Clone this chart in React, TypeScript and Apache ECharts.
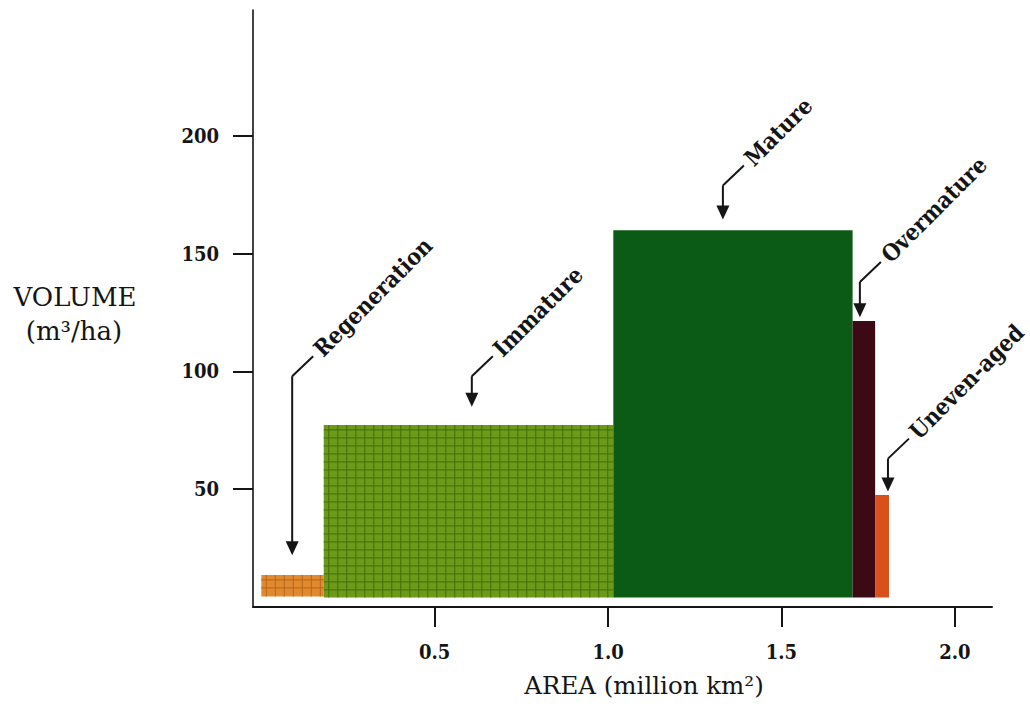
import React, { useEffect, useRef } from "react";
import * as echarts from "echarts";

// ---- data ----
const classes = ["Regeneration", "Immature", "Mature", "Overmature", "Uneven-aged"];
const areaStart = [0.0, 0.18, 1.015, 1.705, 1.77];
const areaEnd = [0.18, 1.015, 1.705, 1.77, 1.81];
const volume = [13.6, 77.3, 160, 121.4, 47.6];
const barBase = [4.5, 4, 4, 4, 4];
const barColors = ["#e0892e", "#6b9a18", "#0b5a15", "#3b0a14", "#d9501a"];
const hatchColors = ["#b0621c", "#40690c", "", "", ""];
const arrowX = [0.089, 0.607, 1.331, 1.726, 1.807];
const elbowY = [98, 98, 179, 138, 63];
const tipY = [22, 85, 164.5, 123, 49];
const xTicks = [0.5, 1.0, 1.5, 2.0];
const yTicks = [50, 100, 150, 200];

const SERIF = "'DejaVu Serif', serif";
const SERIF_C = "'DejaVu Serif Condensed', 'DejaVu Serif', serif";
const INK = "#151515";

export default function App() {
  const ref = useRef<HTMLDivElement>(null);

  useEffect(() => {
    if (!ref.current) return;
    const chart = echarts.init(ref.current, undefined, { renderer: "svg" });

    const barData = classes.map((_, i) => [areaStart[i], areaEnd[i], barBase[i], volume[i]]);
    const noteData = classes.map((_, i) => [arrowX[i], elbowY[i], tipY[i]]);

    const option: any = {
      animation: false,
      backgroundColor: "#ffffff",
      grid: { left: 253, right: 38, top: 10, bottom: 114, containLabel: false },
      xAxis: {
        type: "value",
        min: -0.024,
        max: 2.107,
        splitLine: { show: false },
        axisLine: { show: true, onZero: false, lineStyle: { color: INK, width: 2 } },
        axisTick: {
          show: true,
          inside: false,
          length: 20,
          customValues: xTicks,
          lineStyle: { color: INK, width: 2 },
        },
        axisLabel: {
          customValues: xTicks,
          formatter: (v: number) => v.toFixed(1),
          margin: 35,
          color: INK,
          fontFamily: SERIF_C,
          fontSize: 20,
          fontWeight: "bold",
        },
      },
      yAxis: {
        type: "value",
        min: 0,
        max: 253.5,
        splitLine: { show: false },
        axisLine: { show: true, onZero: false, lineStyle: { color: INK, width: 1.6 } },
        axisTick: {
          show: true,
          inside: false,
          length: 20,
          customValues: yTicks,
          lineStyle: { color: INK, width: 2 },
        },
        axisLabel: {
          customValues: yTicks,
          formatter: (v: number) => String(v),
          margin: 34,
          color: INK,
          fontFamily: SERIF_C,
          fontSize: 20,
          fontWeight: "bold",
        },
      },
      graphic: [
        {
          type: "text",
          x: 75,
          y: 297,
          style: { text: "VOLUME", fill: INK, fontFamily: SERIF, fontSize: 26, align: "center", verticalAlign: "middle" },
        },
        {
          type: "text",
          x: 74,
          y: 331,
          style: { text: "(m³/ha)", fill: INK, fontFamily: SERIF, fontSize: 26, align: "center", verticalAlign: "middle" },
        },
        {
          type: "text",
          x: 644,
          y: 685,
          style: { text: "AREA (million km²)", fill: INK, fontFamily: SERIF, fontSize: 24.5, align: "center", verticalAlign: "middle" },
        },
      ],
      series: [
        {
          type: "custom",
          name: "bars",
          silent: true,
          clip: false,
          encode: { x: [0, 1], y: [2, 3] },
          data: barData,
          renderItem: (params: any, api: any) => {
            const i = params.dataIndex;
            const p0 = api.coord([api.value(0), api.value(3)]);
            const p1 = api.coord([api.value(1), api.value(2)]);
            const x = p0[0];
            const y = p0[1];
            const w = p1[0] - p0[0];
            const h = p1[1] - p0[1];
            const children: any[] = [
              { type: "rect", shape: { x, y, width: w, height: h }, style: { fill: barColors[i] } },
            ];
            const hc = hatchColors[i];
            if (hc) {
              for (let gx = x + 5; gx < x + w - 1; gx += 9) {
                children.push({
                  type: "line",
                  shape: { x1: gx, y1: y, x2: gx, y2: y + h },
                  style: { stroke: hc, lineWidth: 1.2, opacity: 0.75 },
                });
              }
              for (let gy = y + 5; gy < y + h - 1; gy += 8) {
                children.push({
                  type: "line",
                  shape: { x1: x, y1: gy, x2: x + w, y2: gy },
                  style: { stroke: hc, lineWidth: 1.2, opacity: 0.75 },
                });
              }
            }
            return { type: "group", children };
          },
        },
        {
          type: "custom",
          name: "notes",
          silent: true,
          clip: false,
          encode: { x: 0, y: [1, 2] },
          data: noteData,
          renderItem: (params: any, api: any) => {
            const i = params.dataIndex;
            const e = api.coord([api.value(0), api.value(1)]);
            const t = api.coord([api.value(0), api.value(2)]);
            const ah = 14;
            const aw = 6.5;
            const dx = 21;
            const dy = 20;
            return {
              type: "group",
              children: [
                {
                  type: "line",
                  shape: { x1: e[0], y1: e[1], x2: t[0], y2: t[1] - ah + 2 },
                  style: { stroke: INK, lineWidth: 2 },
                },
                {
                  type: "polygon",
                  shape: { points: [[t[0] - aw, t[1] - ah], [t[0] + aw, t[1] - ah], [t[0], t[1]]] },
                  style: { fill: INK },
                },
                {
                  type: "line",
                  shape: { x1: e[0], y1: e[1], x2: e[0] + dx, y2: e[1] - dy },
                  style: { stroke: INK, lineWidth: 2 },
                },
                {
                  type: "text",
                  x: e[0] + dx + 4,
                  y: e[1] - dy - 4,
                  rotation: Math.PI / 4,
                  style: {
                    text: classes[i],
                    fill: INK,
                    fontFamily: SERIF_C,
                    fontSize: 23,
                    fontWeight: "bold",
                    align: "left",
                    verticalAlign: "middle",
                  },
                },
              ],
            };
          },
        },
      ],
    };

    chart.setOption(option);
    return () => chart.dispose();
  }, []);

  return (
    <div
      ref={ref}
      style={{ position: "fixed", left: 0, top: 0, width: 1030, height: 721, background: "#fff" }}
    />
  );
}
